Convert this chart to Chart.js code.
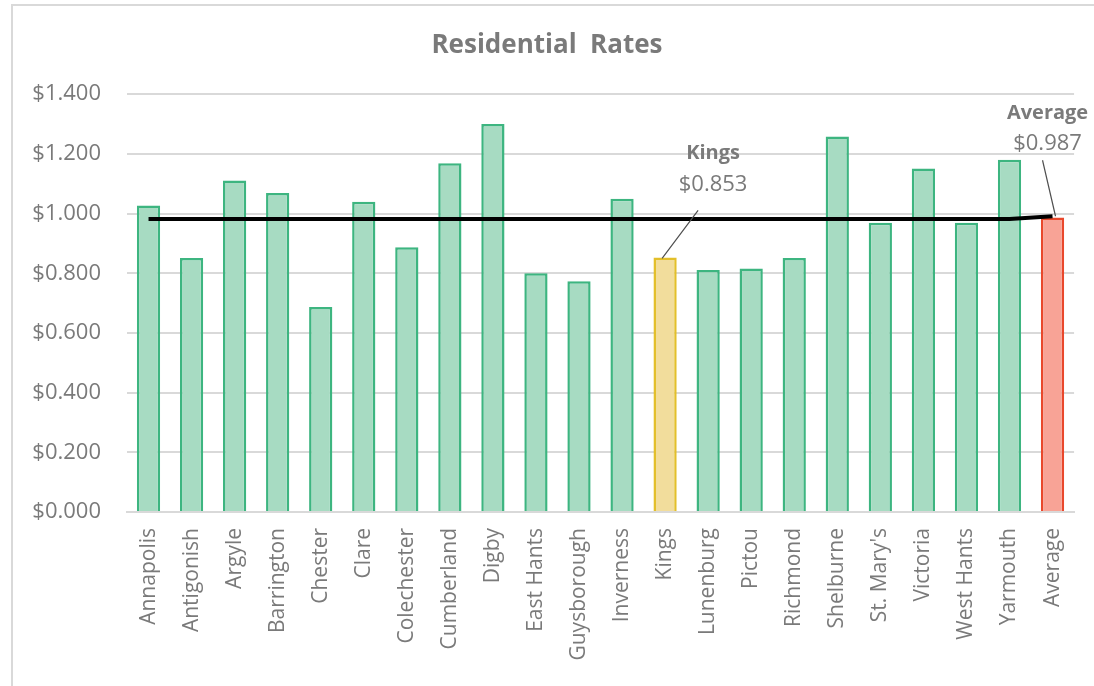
<!DOCTYPE html>
<html>
<head>
<meta charset="utf-8">
<script src="https://cdn.jsdelivr.net/npm/chart.js@4.4.1/dist/chart.umd.min.js"></script>
<style>
  html, body { margin: 0; padding: 0; background: #ffffff; }
  #wrap { position: relative; width: 1094px; height: 686px; overflow: hidden; }
  #frame { position: absolute; left: 11px; top: 4px; width: 1090px; height: 700px;
           border-left: 2px solid #d9d9d9; border-top: 2px solid #d9d9d9; box-sizing: border-box; }
  canvas { position: absolute; left: 0; top: 0; }
</style>
</head>
<body>
<div id="wrap">
  <div id="frame"></div>
  <canvas id="c" width="1094" height="686"></canvas>
</div>
<script>
// ---- data ----
const categories = ["Annapolis","Antigonish","Argyle","Barrington","Chester","Clare","Colechester",
  "Cumberland","Digby","East Hants","Guysborough","Inverness","Kings","Lunenburg","Pictou",
  "Richmond","Shelburne","St. Mary's","Victoria","West Hants","Yarmouth","Average"];
const rates = [1.027, 0.851, 1.111, 1.069, 0.687, 1.040, 0.887, 1.169, 1.300, 0.800, 0.773,
  1.050, 0.853, 0.811, 0.816, 0.851, 1.258, 0.969, 1.151, 0.969, 1.180, 0.987];
const averageLine = [0.982, 0.982, 0.982, 0.982, 0.982, 0.982, 0.982, 0.982, 0.982, 0.982, 0.982,
  0.982, 0.982, 0.982, 0.982, 0.982, 0.982, 0.982, 0.982, 0.982, 0.982, 0.991];
const yTicks = [0, 0.2, 0.4, 0.6, 0.8, 1.0, 1.2, 1.4];
const title = "Residential  Rates";
const kingsLabel = ["Kings", "$0.853"];
const averageLabel = ["Average", "$0.987"];

// ---- styles ----
const FONT = "'Open Sans', sans-serif";
const GREY = "#7a7a7a";
const fills = categories.map(c => c === "Kings" ? "#f2dd9c" : c === "Average" ? "#f8a396" : "#a7dbc2");
const borders = categories.map(c => c === "Kings" ? "#e3bf2a" : c === "Average" ? "#e9482c" : "#3db580");

const annotations = {
  id: 'annotations',
  afterDatasetsDraw(chart) {
    const ctx = chart.ctx;
    const xs = chart.scales.x, ys = chart.scales.y;
    const ki = categories.indexOf("Kings");
    const ai = categories.indexOf("Average");
    const kx = xs.getPixelForValue(ki), ky = ys.getPixelForValue(rates[ki]);
    const ax = xs.getPixelForValue(ai), ay = ys.getPixelForValue(averageLine[ai]);
    ctx.save();
    // leader lines
    ctx.strokeStyle = "#505050";
    ctx.lineWidth = 1.2;
    ctx.beginPath();
    ctx.moveTo(kx - 3, ky + 1);
    ctx.lineTo(kx + 33, ky - 47);
    ctx.moveTo(ax + 3, ay);
    ctx.lineTo(ax - 10, ay - 56);
    ctx.stroke();
    // texts
    ctx.fillStyle = GREY;
    ctx.textAlign = "center";
    ctx.textBaseline = "middle";
    ctx.font = "bold 20px " + FONT;
    ctx.fillText(kingsLabel[0], kx + 48, ky - 104);
    ctx.fillText(averageLabel[0], ax - 5, ay - 103);
    ctx.font = "22px " + FONT;
    ctx.fillText(kingsLabel[1], kx + 48, ky - 73);
    ctx.fillText(averageLabel[1], ax - 5, ay - 73);
    ctx.restore();
  }
};

new Chart(document.getElementById('c'), {
  data: {
    labels: categories,
    datasets: [
      {
        type: 'line',
        data: averageLine,
        borderColor: '#000000',
        borderWidth: 4,
        pointRadius: 0,
        tension: 0,
        order: 0
      },
      {
        type: 'bar',
        data: rates,
        backgroundColor: fills,
        borderColor: borders,
        borderWidth: 2.5,
        categoryPercentage: 1.0,
        barPercentage: 0.54,
        order: 1
      }
    ]
  },
  options: {
    responsive: false,
    animation: false,
    layout: { padding: { left: 12, right: 12, top: 0, bottom: 0 } },
    plugins: {
      legend: { display: false },
      tooltip: { enabled: false },
      title: {
        display: true,
        text: title,
        color: GREY,
        font: { family: FONT, size: 26, weight: 'bold' },
        padding: { top: 30, bottom: 33 }
      }
    },
    scales: {
      x: {
        grid: { display: false, drawTicks: false },
        border: { display: true, color: '#d9d9d9', width: 2 },
        ticks: {
          color: GREY,
          font: { family: FONT, size: 21 },
          minRotation: 90,
          maxRotation: 90,
          autoSkip: false,
          padding: 16
        },
        afterFit(scale) { scale.height = 174; }
      },
      y: {
        min: 0,
        max: 1.4,
        afterBuildTicks(scale) { scale.ticks = yTicks.map(v => ({ value: v })); },
        grid: { color: '#d9d9d9', lineWidth: 2, drawTicks: false },
        border: { display: false },
        ticks: {
          color: GREY,
          font: { family: FONT, size: 22 },
          padding: 26,
          callback: v => '$' + Number(v).toFixed(3)
        },
        afterFit(scale) { scale.width = 115; }
      }
    }
  },
  plugins: [annotations]
});
</script>
</body>
</html>
